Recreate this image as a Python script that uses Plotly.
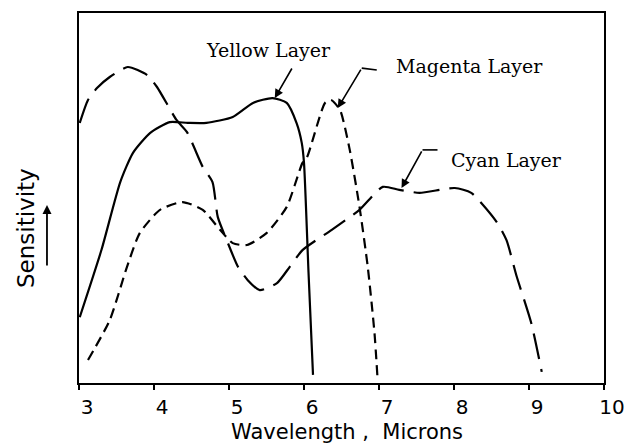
import plotly.graph_objects as go

# Relative spectral sensitivity of the three layers (arbitrary units, 0-100)
yellow_x = [3.01, 3.30, 3.55, 3.72, 3.95, 4.21, 4.45, 4.70, 5.05, 5.32, 5.58, 5.77, 5.90, 5.97, 6.00, 6.06, 6.12]
yellow_y = [17.8, 36.0, 54.3, 62.2, 67.6, 70.5, 70.3, 70.3, 71.9, 75.7, 77.0, 75.7, 70.3, 64.9, 59.5, 30.0, 2.2]

magenta_x = [3.12, 3.41, 3.64, 3.81, 4.08, 4.38, 4.65, 4.88, 5.05, 5.24, 5.50, 5.77, 5.98, 6.04, 6.28, 6.36, 6.48, 6.61, 6.74, 6.85, 6.94, 6.98]
magenta_y = [6.2, 17.0, 31.4, 40.5, 46.8, 48.9, 46.8, 41.4, 37.8, 37.3, 40.5, 47.6, 59.5, 61.0, 75.7, 76.5, 73.8, 63.0, 47.6, 31.4, 13.5, 1.4]

cyan_x = [3.01, 3.12, 3.24, 3.41, 3.65, 3.91, 4.04, 4.30, 4.44, 4.65, 4.78, 4.85, 4.97, 5.12, 5.25, 5.41, 5.64, 5.81, 5.98, 6.37, 6.74, 7.05, 7.27, 7.54, 8.01, 8.23, 8.57, 8.70, 8.83, 9.03, 9.17]
cyan_y = [70.3, 76.5, 79.7, 82.7, 85.4, 83.2, 80.0, 71.1, 67.8, 58.4, 54.3, 44.9, 38.6, 31.4, 27.8, 25.1, 27.0, 31.4, 35.9, 41.4, 46.8, 53.0, 52.2, 51.4, 52.7, 51.4, 43.5, 38.6, 29.2, 16.2, 3.0]

x_ticks = [3, 4, 5, 6, 7, 8, 9, 10]
tick_text = ["3", "4", "5", "6", "7", "8", "9", "10"]

# Curve labels: text position, leader bend point, arrow tip
labels = ["Yellow Layer", "Magenta Layer", "Cyan Layer"]
label_x = [5.52, 8.21, 8.70]
label_y = [90.0, 85.7, 60.3]
tail_x = [5.85, 6.77, 7.58]
tail_y = [85.4, 85.1, 63.0]
lead_x = [None, 6.97, 7.78]
lead_y = [None, 84.6, 63.0]
tip_x = [5.61, 6.45, 7.30]
tip_y = [77.0, 74.3, 52.7]

fig = go.Figure()
line_kw = dict(color="black", width=2.2)
fig.add_trace(go.Scatter(x=yellow_x, y=yellow_y, mode="lines",
                         line=dict(**line_kw, shape="spline", smoothing=0.6)))
fig.add_trace(go.Scatter(x=magenta_x, y=magenta_y, mode="lines",
                         line=dict(**line_kw, shape="spline", smoothing=0.6, dash="10px,6px")))
fig.add_trace(go.Scatter(x=cyan_x, y=cyan_y, mode="lines",
                         line=dict(**line_kw, shape="spline", smoothing=0.6, dash="26px,10px")))

serif = "DejaVu Serif"
sans = "DejaVu Sans"
for i, name in enumerate(labels):
    fig.add_annotation(x=label_x[i], y=label_y[i], text=name, showarrow=False,
                       xanchor="center", yanchor="middle",
                       font=dict(family=serif, size=19, color="black"))
    if lead_x[i] is not None:
        fig.add_trace(go.Scatter(x=[lead_x[i], tail_x[i]], y=[lead_y[i], tail_y[i]],
                                 mode="lines", line=dict(color="black", width=1.6)))
    fig.add_annotation(x=tip_x[i], y=tip_y[i], ax=tail_x[i], ay=tail_y[i],
                       xref="x", yref="y", axref="x", ayref="y", text="",
                       showarrow=True, arrowhead=2, arrowsize=1.1, arrowwidth=1.6,
                       arrowcolor="black", standoff=0)

# Y-axis caption with upward arrow
fig.add_annotation(xref="paper", yref="paper", x=-0.102, y=0.42, text="Sensitivity",
                   textangle=-90, showarrow=False, xanchor="center", yanchor="middle",
                   font=dict(family=sans, size=23, color="black"))
fig.add_annotation(xref="paper", yref="paper", x=-0.061, y=0.481, ax=0, ay=62,
                   text="", showarrow=True,
                   arrowhead=2, arrowsize=1.0, arrowwidth=1.8, arrowcolor="black",
                   standoff=0)

# X-axis caption placed below the tick labels
fig.add_annotation(xref="paper", yref="paper", x=0.51, y=-0.133, text="Wavelength ,  Microns",
                   showarrow=False, xanchor="center", yanchor="middle",
                   font=dict(family=sans, size=21, color="black"))

fig.update_layout(
    width=628, height=444,
    margin=dict(l=79, r=24, t=13, b=61),
    paper_bgcolor="white", plot_bgcolor="white",
    showlegend=False,
    xaxis=dict(range=[3, 10], tickvals=x_ticks, ticktext=tick_text, automargin=False,
               ticks="outside", ticklen=5, tickwidth=1.5, tickcolor="black",
               ticklabelshift=8, ticklabelstandoff=0,
               showline=True, linecolor="black", linewidth=2, mirror=True,
               showgrid=False, zeroline=False,
               tickfont=dict(family=sans, size=20, color="black")),
    yaxis=dict(range=[0, 100], showticklabels=False, ticks="", automargin=False,
               showline=True, linecolor="black", linewidth=2, mirror=True,
               showgrid=False, zeroline=False),
)

fig.write_html("out.html")
